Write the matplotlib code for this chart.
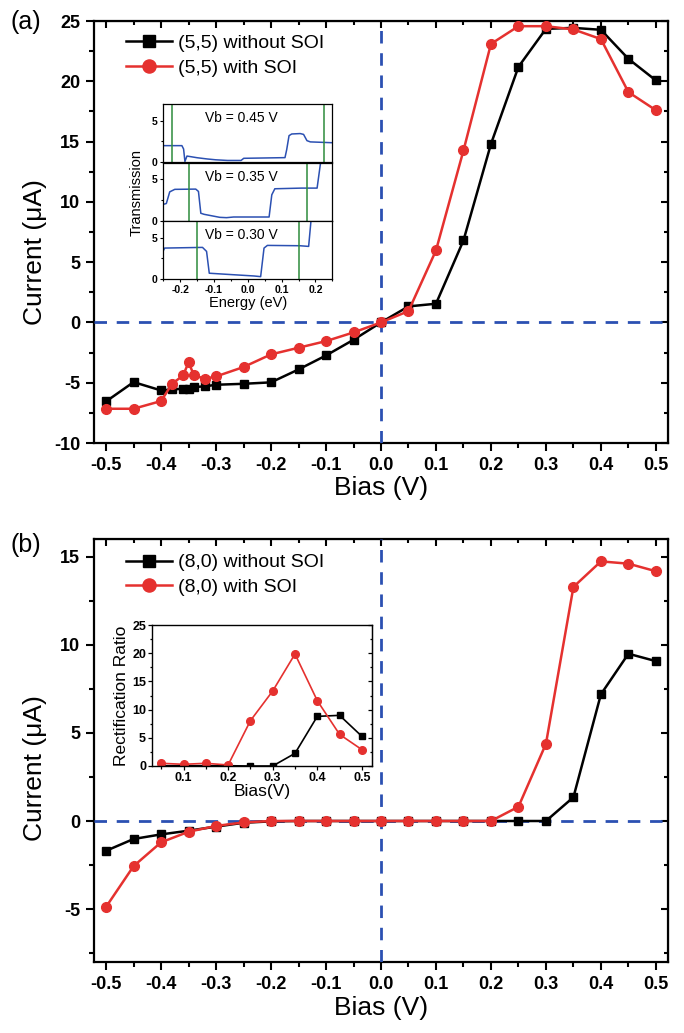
import numpy as np
import matplotlib
matplotlib.use('Agg')
import matplotlib.pyplot as plt
from matplotlib.ticker import MultipleLocator

plt.rcParams['font.family'] = ['Liberation Sans', 'DejaVu Sans']

# ---- panel (a): (5,5) ----
bias_a = [-0.5, -0.45, -0.4, -0.38, -0.36, -0.35, -0.34, -0.32, -0.3, -0.25, -0.2, -0.15, -0.1,
          -0.05, 0.0, 0.05, 0.1, 0.15, 0.2, 0.25, 0.3, 0.35, 0.4, 0.45, 0.5]
cur_a_nosoi = [-6.55, -4.95, -5.64, -5.56, -5.5, -5.5, -5.36, -5.3, -5.17, -5.09, -4.97, -3.9, -2.74,
               -1.44, 0.0, 1.33, 1.55, 6.8, 14.8, 21.2, 24.35, 24.43, 24.27, 21.86, 20.07]
cur_a_soi = [-7.16, -7.16, -6.52, -5.09, -4.4, -3.32, -4.4, -4.67, -4.48, -3.7, -2.65, -2.1, -1.55,
             -0.83, 0.0, 0.94, 5.97, 14.26, 23.1, 24.57, 24.57, 24.3, 23.5, 19.1, 17.6]

# inset (a): transmission spectra
vb_list = [0.45, 0.35, 0.30]
e_045 = [-0.25, -0.195, -0.190, -0.186, -0.180, -0.15, -0.12, -0.095, -0.06, -0.02, -0.016, -0.012,
         0.05, 0.110, 0.115, 0.122, 0.130, 0.155, 0.165, 0.175, 0.185, 0.25]
t_045 = [2.0, 2.0, 1.6, 0.1, 0.75, 0.55, 0.4, 0.3, 0.22, 0.22, 0.35, 0.48,
         0.52, 0.56, 1.5, 3.2, 3.4, 3.45, 3.35, 2.6, 2.45, 2.35]
e_035 = [-0.25, -0.241, -0.231, -0.216, -0.154, -0.146, -0.139, -0.129, -0.083, -0.063, -0.042,
         0.063, 0.071, 0.080, 0.159, 0.205, 0.217, 0.25]
t_035 = [2.0, 2.1, 3.5, 3.8, 3.83, 3.55, 0.93, 0.8, 0.44, 0.4, 0.48,
         0.48, 3.15, 3.87, 3.95, 3.95, 7.5, 8.0]
e_030 = [-0.25, -0.246, -0.134, -0.122, -0.114, -0.063, 0.018, 0.038, 0.048, 0.058, 0.154, 0.180,
         0.188, 0.25]
t_030 = [3.43, 3.75, 3.83, 3.35, 0.73, 0.6, 0.4, 0.32, 3.75, 4.07, 4.03, 3.95, 7.5, 8.0]
energies = [e_045, e_035, e_030]
trans = [t_045, t_035, t_030]

# ---- panel (b): (8,0) ----
bias_b = [-0.5, -0.45, -0.4, -0.35, -0.3, -0.25, -0.2, -0.15, -0.1, -0.05, 0.0,
          0.05, 0.1, 0.15, 0.2, 0.25, 0.3, 0.35, 0.4, 0.45, 0.5]
cur_b_nosoi = [-1.69, -1.02, -0.76, -0.55, -0.32, -0.1, -0.02, 0, 0, 0, 0,
               0, 0, 0, 0, 0, 0, 1.35, 7.19, 9.49, 9.07]
cur_b_soi = [-4.87, -2.56, -1.21, -0.61, -0.28, -0.08, 0, 0, 0, 0, 0,
             0, 0, 0, 0, 0.81, 4.38, 13.28, 14.73, 14.6, 14.17]

# inset (b): rectification ratio
bias_rr = [0.05, 0.1, 0.15, 0.2, 0.25, 0.3, 0.35, 0.4, 0.45, 0.5]
rr_nosoi = [0.05, 0.05, 0.05, 0.05, 0.0, 0.0, 2.24, 8.8, 8.98, 5.26]
rr_soi = [0.48, 0.3, 0.48, 0.18, 8.03, 13.3, 19.86, 11.58, 5.6, 2.9]

xlabs = ['-0.5', '-0.4', '-0.3', '-0.2', '-0.1', '0.0', '0.1', '0.2', '0.3', '0.4', '0.5']
ylabs_a = ['-10', '-5', '0', '5', '10', '15', '20', '25']
ylabs_b = ['-5', '0', '5', '10', '15']

RED = '#e5312f'
BLK = '#000000'
BLUE = '#2b50b2'
GREEN = '#2e8b3c'

fig = plt.figure(figsize=(6.84, 10.33), dpi=100)


def style_main(ax, ylim, ylabels):
    ax.set_xlim(-0.522, 0.522)
    ax.set_ylim(*ylim)
    xt = [float(s) for s in xlabs]
    yt = [float(s) for s in ylabels]
    ax.set_xticks(xt)
    ax.set_xticklabels(xlabs, fontweight='bold', fontsize=13)
    ax.set_yticks(yt)
    ax.set_yticklabels(ylabels, fontweight='bold', fontsize=13)
    ax.xaxis.set_minor_locator(MultipleLocator(0.05))
    ax.yaxis.set_minor_locator(MultipleLocator(2.5))
    ax.tick_params(which='both', direction='out', width=1.5, pad=4)
    ax.tick_params(which='major', length=6)
    ax.tick_params(which='minor', length=3.5)
    for s in ax.spines.values():
        s.set_linewidth(1.6)
    top = ax.secondary_xaxis('top')
    top.set_xticks(xt)
    top.xaxis.set_minor_locator(MultipleLocator(0.05))
    top.tick_params(which='both', direction='in', labeltop=False, width=1.5)
    top.tick_params(which='major', length=5)
    top.tick_params(which='minor', length=3)
    right = ax.secondary_yaxis('right')
    right.set_yticks(yt)
    right.yaxis.set_minor_locator(MultipleLocator(2.5))
    right.tick_params(which='both', direction='in', labelright=False, width=1.5)
    right.tick_params(which='major', length=5)
    right.tick_params(which='minor', length=3)
    ax.axhline(0, color=BLUE, lw=2, ls=(0, (4.5, 3.5)), zorder=3)
    ax.axvline(0, color=BLUE, lw=2, ls=(0, (4.5, 3.5)), zorder=3)


# ===== panel (a) =====
axa = fig.add_axes([94 / 684, 1 - 443 / 1033, 574 / 684, 422 / 1033])
axa.plot(bias_a, cur_a_nosoi, color=BLK, lw=1.8, marker='s', ms=6, label='(5,5) without SOI', zorder=4)
axa.plot(bias_a, cur_a_soi, color=RED, lw=1.8, marker='o', ms=7, label='(5,5) with SOI', zorder=4)
style_main(axa, (-10, 25), ylabs_a)
axa.legend(loc='upper left', bbox_to_anchor=(0.055, 0.968), frameon=False, fontsize=14,
           handlelength=2.4, handletextpad=0.3, labelspacing=0.35, borderpad=0,
           borderaxespad=0, markerscale=1.35)

# inset (a)
ins_h = 58.3 / 1033
ins_bottoms = [1 - 162.3 / 1033, 1 - 221 / 1033, 1 - 279.3 / 1033]
for i, vb in enumerate(vb_list):
    ia = fig.add_axes([163.3 / 684, ins_bottoms[i], 169 / 684, ins_h])
    ia.plot(energies[i], trans[i], color=BLUE, lw=1.1)
    ia.axvline(-vb / 2, color=GREEN, lw=1.1)
    ia.axvline(vb / 2, color=GREEN, lw=1.1)
    ia.set_xlim(-0.25, 0.25)
    ia.set_ylim(0, 7)
    ia.set_yticks([0, 5])
    ia.set_yticklabels(['0', '5'], fontweight='bold', fontsize=7.5)
    ia.set_xticks([-0.2, -0.1, 0.0, 0.1, 0.2])
    ia.xaxis.set_minor_locator(MultipleLocator(0.05))
    ia.yaxis.set_minor_locator(MultipleLocator(2.5))
    ia.tick_params(which='both', direction='out', width=0.8, length=2.5, pad=1.5)
    ia.tick_params(which='minor', length=1.5)
    for s in ia.spines.values():
        s.set_linewidth(0.9)
    ia.text(0.46, 0.76, 'Vb = %.2f V' % vb, transform=ia.transAxes, ha='center', va='center',
            fontsize=10)
    if i < 2:
        ia.tick_params(labelbottom=False, which='both', bottom=False)
    else:
        ia.set_xticklabels(['-0.2', '-0.1', '0.0', '0.1', '0.2'], fontweight='bold', fontsize=7.5)
        ia.set_xlabel('Energy (eV)', fontsize=10.5, labelpad=1)
fig.text(137 / 684, 1 - 192 / 1033, 'Transmission', rotation=90, ha='center', va='center', fontsize=10.5)

# ===== panel (b) =====
axb = fig.add_axes([94 / 684, 1 - 962 / 1033, 574 / 684, 423 / 1033])
axb.plot(bias_b, cur_b_nosoi, color=BLK, lw=1.8, marker='s', ms=6, label='(8,0) without SOI', zorder=4)
axb.plot(bias_b, cur_b_soi, color=RED, lw=1.8, marker='o', ms=7, label='(8,0) with SOI', zorder=4)
style_main(axb, (-8, 16), ylabs_b)
axb.legend(loc='upper left', bbox_to_anchor=(0.055, 0.965), frameon=False, fontsize=14,
           handlelength=2.4, handletextpad=0.3, labelspacing=0.35, borderpad=0,
           borderaxespad=0, markerscale=1.35)

# inset (b)
ib = fig.add_axes([152.3 / 684, 1 - 766 / 1033, 219.4 / 684, 141 / 1033])
ib.plot(bias_rr, rr_nosoi, color=BLK, lw=1.2, marker='s', ms=4.5)
ib.plot(bias_rr, rr_soi, color=RED, lw=1.2, marker='o', ms=5.5)
ib.set_xlim(0.03, 0.522)
ib.set_ylim(0, 25)
ib.set_xticks([0.1, 0.2, 0.3, 0.4, 0.5])
ib.set_xticklabels(['0.1', '0.2', '0.3', '0.4', '0.5'], fontweight='bold', fontsize=9)
ib.set_yticks([0, 5, 10, 15, 20, 25])
ib.set_yticklabels(['0', '5', '10', '15', '20', '25'], fontweight='bold', fontsize=9)
ib.xaxis.set_minor_locator(MultipleLocator(0.05))
ib.yaxis.set_minor_locator(MultipleLocator(2.5))
ib.tick_params(which='both', direction='out', width=0.9, length=3, pad=1.5)
ib.tick_params(which='minor', length=1.8)
for s in ib.spines.values():
    s.set_linewidth(1.0)
rb = ib.secondary_yaxis('right')
rb.set_yticks([0, 5, 10, 15, 20, 25])
rb.yaxis.set_minor_locator(MultipleLocator(2.5))
rb.tick_params(which='both', direction='in', labelright=False, width=0.9, length=3)
rb.tick_params(which='minor', length=1.8)
ib.set_xlabel('Bias(V)', fontsize=12.5, labelpad=0)
ib.set_ylabel('Rectification Ratio', fontsize=12.5, labelpad=2)

# labels
fig.text(10 / 684, 1 - 22 / 1033, '(a)', fontsize=18, ha='left', va='center')
fig.text(10 / 684, 1 - 545 / 1033, '(b)', fontsize=18, ha='left', va='center')
fig.text(35 / 684, 1 - 252 / 1033, 'Current (\u03bcA)', rotation=90, ha='center', va='center', fontsize=19)
fig.text(35 / 684, 1 - 768 / 1033, 'Current (\u03bcA)', rotation=90, ha='center', va='center', fontsize=19)
fig.text(381 / 684, 1 - 488 / 1033, 'Bias (V)', ha='center', va='center', fontsize=19)
fig.text(381 / 684, 1 - 1008 / 1033, 'Bias (V)', ha='center', va='center', fontsize=19)

fig.savefig('out.png', dpi=100)
